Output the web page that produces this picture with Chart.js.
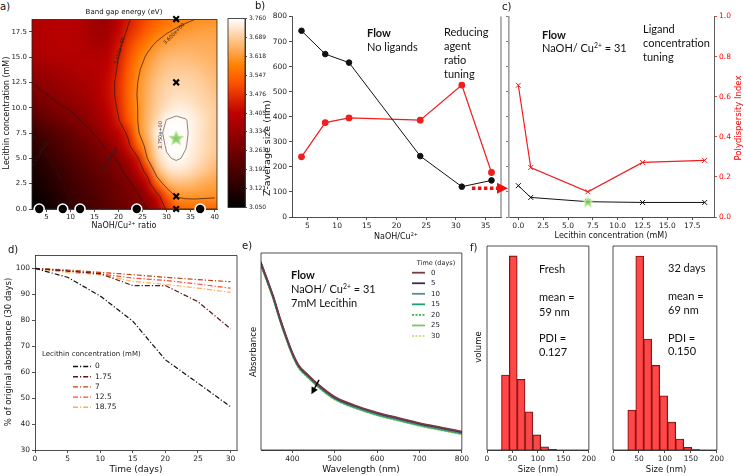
<!DOCTYPE html>
<html><head><meta charset="utf-8">
<script src="https://cdn.jsdelivr.net/npm/chart.js@4.4.1/dist/chart.umd.min.js"></script>
<style>
html,body{margin:0;padding:0;background:#fff}
body{position:relative;width:745px;height:476px;overflow:hidden;font-family:'DejaVu Sans',sans-serif}
canvas{position:absolute}
.t{position:absolute;white-space:nowrap;line-height:1;color:#111}
sup{font-size:0.62em;line-height:0;vertical-align:0.55em}
</style></head><body>
<canvas id="cA"></canvas><canvas id="cCB"></canvas><canvas id="cB"></canvas><canvas id="cC"></canvas>
<canvas id="cD"></canvas><canvas id="cE"></canvas><canvas id="cF1"></canvas><canvas id="cF2"></canvas>
<script>
// ---------------- DATA ----------------
// Panel a: band gap grid (rows from top y=18.75 down to y=0)
const A_GX = [2,4,6,8,10,12,14,16,18,20,22,24,26,28,30,32,34,36,38,40];
const A_GY = [18.75,17.5,16.25,15,13.75,12.5,11.25,10,8.75,7.5,6.25,5,3.75,2.5,1.25,0];
const BANDGAP = [
 [3.38,3.38,3.39,3.39,3.39,3.38,3.36,3.34,3.35,3.40,3.44,3.48,3.51,3.54,3.56,3.575,3.59,3.60,3.605,3.61],
 [3.38,3.38,3.39,3.39,3.39,3.38,3.36,3.34,3.36,3.41,3.46,3.50,3.54,3.57,3.595,3.61,3.62,3.625,3.63,3.63],
 [3.37,3.38,3.38,3.39,3.39,3.38,3.37,3.36,3.38,3.43,3.49,3.54,3.58,3.61,3.63,3.64,3.645,3.645,3.645,3.64],
 [3.36,3.37,3.38,3.38,3.38,3.38,3.38,3.38,3.40,3.45,3.51,3.57,3.61,3.64,3.66,3.665,3.665,3.66,3.655,3.65],
 [3.32,3.34,3.35,3.36,3.37,3.38,3.38,3.39,3.41,3.46,3.53,3.59,3.63,3.66,3.68,3.685,3.685,3.68,3.67,3.66],
 [3.30,3.32,3.33,3.34,3.35,3.36,3.37,3.39,3.42,3.47,3.54,3.60,3.645,3.675,3.695,3.70,3.70,3.695,3.685,3.67],
 [3.27,3.29,3.305,3.32,3.33,3.345,3.36,3.385,3.42,3.47,3.545,3.605,3.65,3.685,3.705,3.715,3.715,3.705,3.695,3.68],
 [3.24,3.26,3.28,3.295,3.305,3.32,3.34,3.37,3.41,3.46,3.54,3.60,3.655,3.69,3.72,3.735,3.735,3.72,3.705,3.69],
 [3.20,3.22,3.24,3.26,3.28,3.30,3.32,3.35,3.39,3.445,3.52,3.60,3.66,3.71,3.752,3.758,3.752,3.735,3.715,3.69],
 [3.15,3.18,3.20,3.22,3.24,3.265,3.29,3.32,3.36,3.40,3.465,3.59,3.66,3.74,3.757,3.76,3.755,3.735,3.71,3.69],
 [3.13,3.155,3.18,3.20,3.22,3.24,3.26,3.285,3.32,3.37,3.43,3.54,3.63,3.72,3.755,3.76,3.752,3.73,3.71,3.69],
 [3.11,3.13,3.155,3.18,3.20,3.22,3.24,3.26,3.28,3.31,3.37,3.44,3.60,3.70,3.745,3.755,3.745,3.725,3.70,3.68],
 [3.09,3.11,3.135,3.16,3.18,3.20,3.22,3.24,3.26,3.285,3.32,3.40,3.48,3.65,3.71,3.725,3.72,3.70,3.68,3.66],
 [3.08,3.10,3.12,3.145,3.165,3.185,3.20,3.22,3.24,3.26,3.285,3.33,3.41,3.54,3.64,3.665,3.665,3.655,3.64,3.63],
 [3.06,3.08,3.10,3.125,3.155,3.175,3.19,3.21,3.23,3.25,3.27,3.29,3.34,3.42,3.52,3.605,3.612,3.612,3.61,3.608],
 [3.05,3.065,3.085,3.11,3.14,3.16,3.18,3.20,3.22,3.24,3.26,3.28,3.30,3.37,3.46,3.53,3.55,3.555,3.55,3.545]
];
const A_LEVELS = [3.15, 3.30, 3.45, 3.60, 3.75];
const A_LEVEL_LABELS = [
 {t:'3.150e+00', x:3.6, y:5.4, rot:-58},
 {t:'3.300e+00', x:18.2, y:4.9, rot:-55},
 {t:'3.450e+00', x:20.3, y:15.6, rot:-75},
 {t:'3.600e+00', x:31.6, y:17.3, rot:-45},
 {t:'3.750e+00', x:28.8, y:7.3, rot:-90}
];
const A_XTICKS = [5,10,15,20,25,30,35,40];
const A_YTICKS = [0,2.5,5,7.5,10,12.5,15,17.5];
const A_CIRCLE_X = [3.5, 8.4, 12, 23.8, 37];
const A_CROSS_X = 32;
const A_CROSS_Y = [0, 1.25, 12.5, 18.75];
const A_STAR = {x:32, y:7};
const CB_TICKS = [3.050,3.121,3.192,3.263,3.334,3.405,3.476,3.547,3.618,3.689,3.760];

// Panel b
const B_X = [4, 8, 12, 24, 31, 36];
const B_SIZE = [743, 650, 616, 243, 121, 146];
const B_PDI = [0.300, 0.471, 0.494, 0.483, 0.658, 0.222];
const B_XTICKS = [5,10,15,20,25,30,35];
const B_YTICKS = [0,100,200,300,400,500,600,700,800];
const B_ARROW = {from:32.7, level:115};

// Panel c
const C_X = [0, 1.25, 7, 12.5, 18.75];
const C_SIZE = [125, 78, 61, 58, 58];
const C_PDI = [0.657, 0.247, 0.126, 0.272, 0.282];
const C_STAR = {x:7, y:61};
const C_XTICKS = [0,2.5,5,7.5,10,12.5,15,17.5];
const C_Y2TICKS = [0,0.2,0.4,0.6,0.8,1.0];

// Panel d
const D_T = [0,5,10,15,20,25,30];
const D_LABELS = ['0','1.75','7','12.5','18.75'];
const D_0    = [100, 96.6, 89.4, 79.7, 64.8, 55.8, 46.7];
const D_175  = [100, 99.0, 98.0, 93.4, 93.4, 87.2, 76.8];
const D_7    = [100, 99.4, 98.5, 97.6, 96.6, 95.7, 94.9];
const D_125  = [100, 99.1, 97.9, 96.3, 95.4, 94.0, 92.4];
const D_1875 = [100, 98.4, 97.6, 95.0, 93.9, 92.4, 90.8];
const D_COLORS = ['#111111','#5e1414','#bc430c','#ff4a36','#ffad5a'];
const D_XTICKS = [0,5,10,15,20,25,30];
const D_YTICKS = [30,40,50,60,70,80,90,100];

// Panel e
const E_WL  = [325,340,355,370,385,400,415,435,460,500,550,600,650,700,750,800];
const E_D0  = [0.957,0.870,0.780,0.675,0.580,0.495,0.430,0.385,0.335,0.270,0.225,0.190,0.163,0.137,0.115,0.094];
const E_D5  = [0.954,0.867,0.777,0.672,0.577,0.492,0.427,0.382,0.332,0.267,0.222,0.187,0.160,0.134,0.112,0.091];
const E_D10 = [0.951,0.864,0.774,0.669,0.574,0.489,0.424,0.379,0.329,0.264,0.219,0.184,0.157,0.131,0.109,0.088];
const E_D15 = [0.948,0.861,0.771,0.666,0.571,0.486,0.421,0.376,0.326,0.261,0.216,0.181,0.154,0.128,0.106,0.085];
const E_D20 = [0.946,0.859,0.769,0.664,0.569,0.484,0.419,0.374,0.324,0.259,0.214,0.179,0.152,0.126,0.104,0.083];
const E_D25 = [0.944,0.857,0.767,0.662,0.567,0.482,0.417,0.372,0.322,0.257,0.212,0.177,0.150,0.124,0.102,0.081];
const E_D30 = [0.942,0.855,0.765,0.660,0.565,0.480,0.415,0.370,0.320,0.255,0.210,0.175,0.148,0.122,0.100,0.079];
const E_DAYS = ['0','5','10','15','20','25','30'];
const E_COLORS = ['#7a3b47','#3b2a55','#5d8a95','#1f9e78','#3db34a','#78c764','#c6e58c'];
const E_XTICKS = [400,500,600,700,800];
const E_ARROW = {x0:463, y0:0.356, x1:445, y1:0.283};

// Panel f
const F_BINS  = [36.2, 51.6, 67.0, 82.4, 97.8, 113.2, 128.6, 144.0, 159.4];
const F_FRESH = [18.9, 48.9, 17.8, 9.6, 3.8, 0.8, 0.2, 0, 0];
const F_32D   = [7.6, 36.9, 21.1, 16.1, 10.3, 5.3, 2.1, 0.5, 0.1];
const F_XTICKS = [0,50,100,150,200];

// ---------------- HELPERS ----------------
Chart.defaults.font.family = "'DejaVu Sans', sans-serif";
Chart.defaults.color = '#222';

function mk(id, plot, m, ax, cfg){
  const c = document.getElementById(id);
  const W = plot.r-plot.l+m.l+m.r, H = plot.b-plot.t+m.t+m.b;
  c.width = W; c.height = H;
  Object.assign(c.style,{left:(plot.l-m.l)+'px', top:(plot.t-m.t)+'px', width:W+'px', height:H+'px'});
  cfg.options = cfg.options || {};
  Object.assign(cfg.options,{responsive:false, maintainAspectRatio:false, animation:false, devicePixelRatio:1, events:[],
    layout:{padding:{left:ax.l?0:m.l, right:ax.r?0:m.r, top:m.t, bottom:ax.b?0:m.b}}});
  cfg.options.plugins = Object.assign({legend:{display:false}, tooltip:{enabled:false}}, cfg.options.plugins||{});
  return new Chart(c, cfg);
}
function axis(o){
  const s = {type:'linear', position:o.pos, min:o.min, max:o.max, display:true, offset:false,
    afterBuildTicks: a => { a.ticks = (o.ticks||[]).map(v=>({value:v})); },
    ticks:{display:o.labels!==false, font:{size:o.size||7.5}, color:o.color||'#222', padding:o.pad!=null?o.pad:2, maxRotation:0, autoSkip:false, callback:o.fmt||(v=>String(v))},
    grid:{display:true, drawOnChartArea:false, drawTicks:true, tickLength:o.tl||3, color:o.tcolor||'#222', lineWidth:0.8, offset:false},
    border:{display:true, color:o.bcolor||'#222', width:o.bw||0.8}};
  if (o.fit!=null) s.afterFit = (o.pos==='bottom') ? (a=>{a.height=o.fit;}) : (a=>{a.width=o.fit;});
  return s;
}
function frame(sides, color, lw){
  return {id:'frame', afterDatasetsDraw(ch){
    const {ctx, chartArea:ca} = ch; ctx.save(); ctx.strokeStyle=color||'#222'; ctx.lineWidth=lw||0.8;
    ctx.beginPath();
    if (sides.includes('t')){ctx.moveTo(ca.left,ca.top);ctx.lineTo(ca.right,ca.top);}
    if (sides.includes('r')){ctx.moveTo(ca.right,ca.top);ctx.lineTo(ca.right,ca.bottom);}
    if (sides.includes('b')){ctx.moveTo(ca.left,ca.bottom);ctx.lineTo(ca.right,ca.bottom);}
    if (sides.includes('l')){ctx.moveTo(ca.left,ca.top);ctx.lineTo(ca.left,ca.bottom);}
    ctx.stroke(); ctx.restore();
  }};
}
function T(s,x,y,o){
  o=o||{}; const d=document.createElement('div'); d.className='t'; d.innerHTML=s;
  d.style.left=x+'px'; d.style.top=y+'px'; d.style.fontSize=(o.size||9)+'px';
  d.style.fontFamily=o.font||"'DejaVu Sans', sans-serif";
  if (o.bold) d.style.fontWeight='bold';
  if (o.color) d.style.color=o.color;
  if (o.rot) d.style.transform='translate(-50%,-50%) rotate('+o.rot+'deg)';
  else { const a=o.align||'l'; d.style.transform='translate('+(a==='c'?'-50%':a==='r'?'-100%':'0')+',-50%)'; }
  document.body.appendChild(d);
}
function cmap(v){ // gist_heat
  let t=(v-3.05)/(3.76-3.05); t=Math.max(0,Math.min(1,t));
  const r=Math.min(1,1.5*t), g=Math.max(0,Math.min(1,2*t-1)), b=Math.max(0,Math.min(1,4*t-3));
  return [Math.round(r*255),Math.round(g*255),Math.round(b*255)];
}
function starImg(r, fill, edge){
  const c=document.createElement('canvas'); const s=Math.ceil(2*r+5); c.width=c.height=s;
  const g=c.getContext('2d'); g.translate(s/2,s/2+0.5); g.beginPath();
  for(let i=0;i<10;i++){const a=-Math.PI/2+i*Math.PI/5; const rr=i%2?r*0.45:r; g.lineTo(rr*Math.cos(a),rr*Math.sin(a));}
  g.closePath(); g.fillStyle=fill; g.fill(); g.strokeStyle=edge; g.lineWidth=1.5; g.stroke();
  return c;
}

// ---------------- PANEL a ----------------
const heatPlugin = {id:'heat', beforeDatasetsDraw(ch){
  const {ctx, chartArea:ca, scales:{x,y}} = ch;
  const nr=BANDGAP.length, nc=BANDGAP[0].length;
  const off=document.createElement('canvas'); off.width=nc+2; off.height=nr+2;
  const g=off.getContext('2d'); const img=g.createImageData(nc+2,nr+2);
  for(let r=0;r<nr+2;r++) for(let c=0;c<nc+2;c++){
    const v=BANDGAP[Math.max(0,Math.min(nr-1,r-1))][Math.max(0,Math.min(nc-1,c-1))];
    const col=cmap(v); const k=4*(r*(nc+2)+c); img.data[k]=col[0]; img.data[k+1]=col[1]; img.data[k+2]=col[2]; img.data[k+3]=255;
  }
  g.putImageData(img,0,0);
  ctx.save(); ctx.beginPath(); ctx.rect(ca.left,ca.top,ca.width,ca.height); ctx.clip();
  ctx.imageSmoothingEnabled=true; ctx.imageSmoothingQuality='high';
  const dx=A_GX[1]-A_GX[0], dy=A_GY[0]-A_GY[1];
  const x0=x.getPixelForValue(A_GX[0]-dx/2), x1=x.getPixelForValue(A_GX[nc-1]+dx/2);
  const y0=y.getPixelForValue(A_GY[0]+dy/2), y1=y.getPixelForValue(A_GY[nr-1]-dy/2);
  ctx.drawImage(off,1,1,nc,nr,x0,y0,x1-x0,y1-y0);
  // contours (marching squares)
  ctx.lineWidth=0.8;
  A_LEVELS.forEach((L,li)=>{
    ctx.strokeStyle = li===4 ? 'rgba(90,90,90,0.9)' : 'rgba(40,20,20,0.85)';
    ctx.beginPath();
    for(let r=0;r<nr-1;r++) for(let c=0;c<nc-1;c++){
      const p=[[A_GX[c],A_GY[r],BANDGAP[r][c]],[A_GX[c+1],A_GY[r],BANDGAP[r][c+1]],[A_GX[c+1],A_GY[r+1],BANDGAP[r+1][c+1]],[A_GX[c],A_GY[r+1],BANDGAP[r+1][c]]];
      const pts=[];
      for(let e=0;e<4;e++){const a=p[e], b=p[(e+1)%4];
        if((a[2]>=L)!==(b[2]>=L)){const t=(L-a[2])/(b[2]-a[2]); pts.push([a[0]+t*(b[0]-a[0]), a[1]+t*(b[1]-a[1])]);}}
      for(let k=0;k+1<pts.length;k+=2){
        ctx.moveTo(x.getPixelForValue(pts[k][0]),y.getPixelForValue(pts[k][1]));
        ctx.lineTo(x.getPixelForValue(pts[k+1][0]),y.getPixelForValue(pts[k+1][1]));
      }
    }
    ctx.stroke();
  });
  ctx.fillStyle='#222'; ctx.font="5px 'DejaVu Sans'"; ctx.textAlign='center'; ctx.textBaseline='middle';
  A_LEVEL_LABELS.forEach(l=>{ctx.save(); ctx.translate(x.getPixelForValue(l.x),y.getPixelForValue(l.y)); ctx.rotate(l.rot*Math.PI/180); ctx.fillText(l.t,0,0); ctx.restore();});
  ctx.restore();
  ctx.save(); ctx.strokeStyle='#222'; ctx.lineWidth=0.8; ctx.strokeRect(ca.left,ca.top,ca.width,ca.height); ctx.restore();
}};
const starA = starImg(6.5,'rgba(125,200,95,0.9)','rgba(170,225,130,0.8)');
mk('cA',{l:32,t:17,r:217,b:209},{l:32,t:4,r:8,b:14},{l:true,b:true},{
  type:'scatter',
  data:{datasets:[
    {data:[A_STAR], pointStyle:starA, clip:false},
    {data:A_CROSS_Y.map(v=>({x:A_CROSS_X,y:v})), pointStyle:'crossRot', pointRadius:4, pointBorderColor:'#000', pointBorderWidth:2.2, clip:false},
    {data:A_CIRCLE_X.map(v=>({x:v,y:0})), pointRadius:5, pointBackgroundColor:'#000', pointBorderColor:'#fff', pointBorderWidth:1.6, clip:false}
  ]},
  options:{scales:{
    x:axis({pos:'bottom',min:2,max:40.5,ticks:A_XTICKS,size:7,fit:14,pad:1}),
    y:axis({pos:'left',min:0,max:18.7,ticks:A_YTICKS,size:7,fit:32,fmt:v=>v.toFixed(1)})}},
  plugins:[heatPlugin]
});
// colorbar
const cbPlugin = {id:'cb', beforeDatasetsDraw(ch){
  const {ctx, chartArea:ca} = ch;
  const grd=ctx.createLinearGradient(0,ca.bottom,0,ca.top);
  for(let i=0;i<=40;i++){const v=3.05+(3.76-3.05)*i/40; const c=cmap(v); grd.addColorStop(i/40,'rgb('+c.join(',')+')');}
  ctx.save(); ctx.fillStyle=grd; ctx.fillRect(ca.left,ca.top,ca.width,ca.height);
  ctx.strokeStyle='#222'; ctx.lineWidth=0.8; ctx.strokeRect(ca.left,ca.top,ca.width,ca.height); ctx.restore();
}};
mk('cCB',{l:228,t:17,r:245,b:209},{l:2,t:4,r:22,b:4},{r:true},{
  type:'scatter', data:{datasets:[]},
  options:{scales:{x:{type:'linear',display:false,min:0,max:1},
    y:axis({pos:'right',min:3.05,max:3.76,ticks:CB_TICKS,size:6,fit:22,tl:2,pad:2,fmt:v=>v.toFixed(3)})}},
  plugins:[cbPlugin]
});

// ---------------- PANEL b ----------------
const bPlugin = {id:'bx', afterDraw(ch){
  const {ctx, chartArea:ca, scales:{x,y}} = ch;
  ctx.save(); ctx.strokeStyle='#a0a0a0'; ctx.lineWidth=1.6; ctx.beginPath(); ctx.moveTo(ca.right,ca.top); ctx.lineTo(ca.right,ca.bottom); ctx.stroke();
  const xs=x.getPixelForValue(B_ARROW.from), ys=y.getPixelForValue(B_ARROW.level), xe=ca.right-3;
  ctx.strokeStyle='#f01010'; ctx.lineWidth=3.5; ctx.setLineDash([3.5,2.5]); ctx.beginPath(); ctx.moveTo(xs,ys); ctx.lineTo(xe,ys); ctx.stroke();
  ctx.setLineDash([]); ctx.fillStyle='#f01010'; ctx.beginPath(); ctx.moveTo(xe-1,ys-5.5); ctx.lineTo(xe+10,ys); ctx.lineTo(xe-1,ys+5.5); ctx.closePath(); ctx.fill();
  ctx.restore();
}};
mk('cB',{l:292,t:16,r:501,b:217},{l:26,t:6,r:14,b:14},{l:true,b:true},{
  type:'line',
  data:{datasets:[
    {data:B_X.map((v,i)=>({x:v,y:B_SIZE[i]})), yAxisID:'y', borderColor:'#111', borderWidth:1, pointRadius:2.8, pointBackgroundColor:'#111', pointBorderColor:'#111'},
    {data:B_X.map((v,i)=>({x:v,y:B_PDI[i]})), yAxisID:'y2', borderColor:'#f21d1d', borderWidth:1.2, pointRadius:2.8, pointBackgroundColor:'#f21d1d', pointBorderColor:'#f21d1d'}
  ]},
  options:{scales:{
    x:axis({pos:'bottom',min:2.4,max:37.6,ticks:B_XTICKS,fit:14}),
    y:axis({pos:'left',min:0,max:800,ticks:B_YTICKS,fit:26}),
    y2:{type:'linear',display:false,min:0,max:1}}},
  plugins:[bPlugin]
});

// ---------------- PANEL c ----------------
const starC = starImg(5,'rgba(125,200,95,0.9)','rgba(190,235,150,0.8)');
mk('cC',{l:508,t:16,r:714,b:217},{l:4,t:6,r:24,b:14},{l:true,r:true,b:true},{
  type:'line',
  data:{datasets:[
    {data:[C_STAR], yAxisID:'y', showLine:false, pointStyle:starC},
    {data:C_X.map((v,i)=>({x:v,y:C_SIZE[i]})), yAxisID:'y', borderColor:'#111', borderWidth:1, pointStyle:'crossRot', pointRadius:3.5, pointBorderColor:'#111', pointBorderWidth:1},
    {data:C_X.map((v,i)=>({x:v,y:C_PDI[i]})), yAxisID:'y2', borderColor:'#f21d1d', borderWidth:1.2, pointStyle:'crossRot', pointRadius:3.5, pointBorderColor:'#f21d1d', pointBorderWidth:1}
  ]},
  options:{scales:{
    x:axis({pos:'bottom',min:-0.9375,max:19.6875,ticks:C_XTICKS,fit:14,fmt:v=>v.toFixed(1)}),
    y:axis({pos:'left',min:0,max:800,ticks:B_YTICKS,labels:false,fit:4,bcolor:'#a0a0a0',bw:1.6,tcolor:'#555'}),
    y2:axis({pos:'right',min:0,max:1,ticks:C_Y2TICKS,fit:24,color:'#f00',tcolor:'#f00',bcolor:'#333',fmt:v=>v.toFixed(1)})}}
});

// ---------------- PANEL d ----------------
const D_SERIES=[D_0,D_175,D_7,D_125,D_1875];
const dLegend = {id:'dleg', afterDraw(ch){
  const {ctx, chartArea:ca} = ch; ctx.save();
  ctx.font="7px 'DejaVu Sans'"; ctx.fillStyle='#222'; ctx.textBaseline='middle'; ctx.textAlign='left';
  ctx.fillText('Lecithin concentration (mM)', ca.left+7, ca.top+99);
  ch.data.datasets.forEach((ds,i)=>{
    const yy=ca.top+111+i*10.2;
    ctx.strokeStyle=ds.borderColor; ctx.lineWidth=1.4; ctx.setLineDash(ds.borderDash); ctx.beginPath(); ctx.moveTo(ca.left+38,yy); ctx.lineTo(ca.left+56,yy); ctx.stroke();
    ctx.setLineDash([]); ctx.font="7.5px 'DejaVu Sans'"; ctx.fillText(D_LABELS[i], ca.left+60, yy);
  });
  ctx.restore();
}};
mk('cD',{l:35,t:253,r:237,b:450},{l:28,t:4,r:8,b:14},{l:true,b:true},{
  type:'line',
  data:{labels:D_T, datasets:D_SERIES.map((s,i)=>({data:D_T.map((t,j)=>({x:t,y:s[j]})), borderColor:D_COLORS[i], borderWidth:1.2, borderDash:[5,2,1.2,2], pointRadius:0}))},
  options:{scales:{
    x:axis({pos:'bottom',min:0,max:31,ticks:D_XTICKS,fit:14}),
    y:axis({pos:'left',min:30,max:105,ticks:D_YTICKS,fit:28})}},
  plugins:[frame('tr'), dLegend]
});

// ---------------- PANEL e ----------------
const E_SERIES=[E_D0,E_D5,E_D10,E_D15,E_D20,E_D25,E_D30];
const E_DASH=[[],[],[],[],[2,1.5],[],[2,1.5]];
const eExtra = {id:'eleg', afterDraw(ch){
  const {ctx, chartArea:ca, scales:{x,y}} = ch; ctx.save();
  ctx.font="6.5px 'DejaVu Sans'"; ctx.fillStyle='#222'; ctx.textBaseline='middle'; ctx.textAlign='center';
  ctx.fillText('Time (days)', ca.left+175, ca.top+10);
  ctx.textAlign='left';
  ch.data.datasets.forEach((ds,i)=>{
    const yy=ca.top+19.7+i*10.55;
    ctx.strokeStyle=ds.borderColor; ctx.lineWidth=1.8; ctx.setLineDash(E_DASH[i]); ctx.beginPath(); ctx.moveTo(ca.left+151,yy); ctx.lineTo(ca.left+164,yy); ctx.stroke();
    ctx.setLineDash([]); ctx.font="7px 'DejaVu Sans'"; ctx.fillStyle='#223'; ctx.fillText(E_DAYS[i], ca.left+170, yy);
  });
  const ax0=x.getPixelForValue(E_ARROW.x0), ay0=y.getPixelForValue(E_ARROW.y0), ax1=x.getPixelForValue(E_ARROW.x1), ay1=y.getPixelForValue(E_ARROW.y1);
  const ang=Math.atan2(ay1-ay0,ax1-ax0), hl=7, hw=3.5;
  const bx=ax1-hl*Math.cos(ang), by=ay1-hl*Math.sin(ang);
  ctx.strokeStyle='#000'; ctx.lineWidth=1.4; ctx.beginPath(); ctx.moveTo(ax0,ay0); ctx.lineTo(bx,by); ctx.stroke();
  ctx.fillStyle='#000'; ctx.beginPath(); ctx.moveTo(ax1,ay1); ctx.lineTo(bx+hw*Math.sin(ang),by-hw*Math.cos(ang)); ctx.lineTo(bx-hw*Math.sin(ang),by+hw*Math.cos(ang)); ctx.closePath(); ctx.fill();
  ctx.restore();
}};
mk('cE',{l:261,t:253,r:463,b:450},{l:4,t:4,r:8,b:14},{b:true},{
  type:'line',
  data:{datasets:E_SERIES.map((s,i)=>({data:E_WL.map((w,j)=>({x:w,y:s[j]})), borderColor:E_COLORS[i], borderWidth:1.7, borderDash:E_DASH[i], pointRadius:0, cubicInterpolationMode:'monotone'}))},
  options:{scales:{
    x:axis({pos:'bottom',min:326,max:800,ticks:E_XTICKS,fit:14}),
    y:{type:'linear',display:false,min:0,max:1}}},
  plugins:[frame('trbl'), eExtra]
});

// ---------------- PANEL f ----------------
function hist(id, plot, vals, ymax){
  mk(id, plot, {l:8,t:4,r:8,b:14}, {b:true}, {
    type:'bar',
    data:{datasets:[{data:F_BINS.map((b,i)=>({x:b,y:vals[i]})), backgroundColor:'rgba(252,40,40,0.85)', borderColor:'#4a1c1c', borderWidth:0.8, barPercentage:1, categoryPercentage:1, grouped:false}]},
    options:{scales:{
      x:axis({pos:'bottom',min:0,max:200,ticks:F_XTICKS,fit:14}),
      y:{type:'linear',display:false,min:0,max:ymax}}},
    plugins:[frame('trbl')]
  });
}
hist('cF1',{l:487,t:246,r:590,b:450},F_FRESH,51.4);
hist('cF2',{l:613,t:246,r:718,b:450},F_32D,38.8);

// ---------------- TEXT ----------------
const LATO="Lato, 'Open Sans', sans-serif";
T('a)',0,7,{size:10}); T('b)',255,6,{size:10}); T('c)',502,7,{size:10});
T('d)',8,250,{size:10}); T('e)',242,246,{size:10}); T('f)',470,248,{size:10});
T('Band gap energy (eV)',124,12,{size:7,align:'c'});
T('Lecithin concentration (mM)',7,113,{size:8,rot:-90});
T('NaOH/Cu<sup>2+</sup> ratio',124,226,{size:8,align:'c'});
T('Z-average size (nm)',267,148,{size:9.5,rot:-90});
T('NaOH/Cu<sup>2+</sup>',396,237,{size:8,align:'c'});
T('Lecithin concentration (mM)',611,236,{size:8,align:'c'});
T('Polydispersity Index',738,118,{size:8.5,rot:-90,color:'#f00'});
T('Flow',367,32,{font:LATO,size:11,bold:true}); T('No ligands',367,46,{font:LATO,size:11});
T('Reducing',444,31,{font:LATO,size:11}); T('agent',444,45,{font:LATO,size:11});
T('ratio',444,59,{font:LATO,size:11}); T('tuning',444,72.5,{font:LATO,size:11});
T('Flow',542,33.5,{font:LATO,size:11,bold:true}); T('NaOH/ Cu<sup>2+</sup> = 31',542,47,{font:LATO,size:11});
T('Ligand',643,27.5,{font:LATO,size:11}); T('concentration',643,42,{font:LATO,size:11}); T('tuning',643,56,{font:LATO,size:11});
T('% of original absorbance (30 days)',8,352,{size:8.5,rot:-90});
T('Time (days)',136,469,{size:9,align:'c'});
T('Absorbance',253,352,{size:8.5,rot:-90});
T('Wavelength (nm)',361,469,{size:9,align:'c'});
T('Flow',291,273.5,{font:LATO,size:11,bold:true}); T('NaOH/ Cu<sup>2+</sup> = 31',291,288,{font:LATO,size:11}); T('7mM Lecithin',291,302,{font:LATO,size:11});
T('volume',478,347,{size:8.5,rot:-90});
T('Size (nm)',538,469,{size:8.5,align:'c'}); T('Size (nm)',666,469,{size:8.5,align:'c'});
T('Fresh',539,268,{font:LATO,size:11}); T('mean =',539,296,{font:LATO,size:11}); T('59 nm',539,310.5,{font:LATO,size:11});
T('PDI =',539,337,{font:LATO,size:11}); T('0.127',539,351,{font:LATO,size:11});
T('32 days',668,267,{font:LATO,size:11}); T('mean =',668,295,{font:LATO,size:11}); T('69 nm',668,309,{font:LATO,size:11});
T('PDI =',668,336.5,{font:LATO,size:11}); T('0.150',668,350,{font:LATO,size:11});
</script></body></html>
